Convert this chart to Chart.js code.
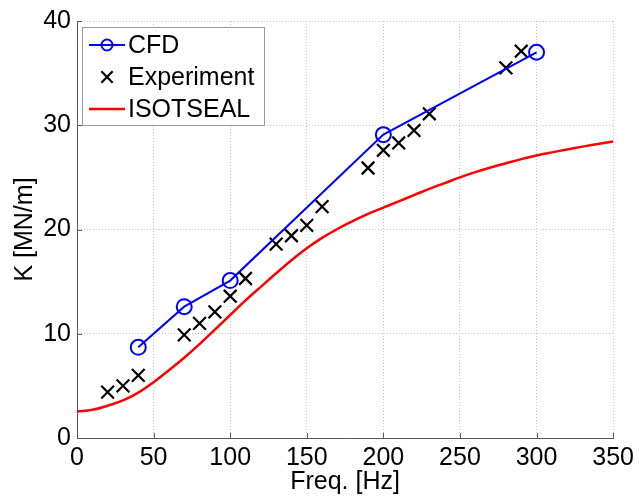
<!DOCTYPE html>
<html>
<head>
<meta charset="utf-8">
<script src="https://cdn.jsdelivr.net/npm/chart.js@4.4.1/dist/chart.umd.min.js"></script>
<style>
  html, body { margin: 0; padding: 0; background: #fff; }
  #wrap { width: 639px; height: 500px; }
</style>
</head>
<body>
<div id="wrap"><canvas id="chart" width="639" height="500"></canvas></div>
<script>
// CFD results
const cfdFreq = [40, 70, 100, 200, 300];
const cfdK = [8.7, 12.6, 15.1, 29.1, 37.0];

// measured values
const expFreq = [20, 30, 40, 70, 80, 90, 100, 110, 130, 140, 150, 160, 190, 200, 210, 220, 230, 280, 290];
const expK = [4.4, 5.0, 6.0, 9.9, 11.0, 12.1, 13.6, 15.3, 18.6, 19.4, 20.4, 22.2, 25.9, 27.6, 28.3, 29.5, 31.1, 35.5, 37.1];

// ISOTSEAL prediction
const isoFreq = [0, 10, 20, 30, 40, 50, 60, 70, 80, 90, 100, 110, 120, 130, 140, 150, 160, 170, 180,
                 190, 200, 210, 220, 230, 240, 250, 260, 270, 280, 290, 300, 310, 320, 330, 340, 350];
const isoK = [2.55, 2.7, 3.1, 3.6, 4.35, 5.35, 6.5, 7.7, 9.0, 10.4, 11.8, 13.2, 14.5, 15.8, 17.05, 18.2, 19.2, 20.05, 20.8,
              21.5, 22.1, 22.7, 23.3, 23.9, 24.45, 25.0, 25.5, 25.95, 26.35, 26.75, 27.1, 27.4, 27.68, 27.95, 28.2, 28.45];

const FONT = 'Liberation Sans, Arial, Helvetica, sans-serif';
const axisColor = '#5a5a5a';

function toPoints(xs, ys) {
    return xs.map((x, i) => ({ x: x, y: ys[i] }));
}

// MATLAB style ticks pointing into the plot
const innerTicks = {
    id: 'innerTicks',
    afterDatasetsDraw(chart) {
        const { ctx, chartArea: a, scales: { x, y } } = chart;
        ctx.save();
        ctx.strokeStyle = axisColor;
        ctx.lineWidth = 1;
        ctx.beginPath();
        x.ticks.forEach(t => {
            const px = Math.round(x.getPixelForValue(t.value)) + 0.5;
            ctx.moveTo(px, a.bottom);
            ctx.lineTo(px, a.bottom - 5);
        });
        y.ticks.forEach(t => {
            const py = Math.round(y.getPixelForValue(t.value)) + 0.5;
            ctx.moveTo(a.left, py);
            ctx.lineTo(a.left + 5, py);
        });
        ctx.stroke();
        ctx.restore();
    }
};

// boxed legend in the upper left corner
const boxLegend = {
    id: 'boxLegend',
    afterDraw(chart) {
        const ctx = chart.ctx;
        const a = chart.chartArea;
        const bx = a.left + 5, by = a.top + 6, bw = 182, bh = 98;
        ctx.save();
        ctx.fillStyle = '#fff';
        ctx.fillRect(bx, by, bw, bh);
        ctx.strokeStyle = '#9a9a9a';
        ctx.lineWidth = 1;
        ctx.strokeRect(bx + 0.5, by + 0.5, bw, bh);

        ctx.font = '25px ' + FONT;
        ctx.textBaseline = 'middle';
        chart.data.datasets.forEach((ds, i) => {
            const cy = by + 18 + i * 32;
            const x0 = bx + 7, x1 = bx + 43, xm = (x0 + x1) / 2;
            if (ds.showLine !== false) {
                ctx.strokeStyle = ds.borderColor;
                ctx.lineWidth = ds.borderWidth;
                ctx.beginPath();
                ctx.moveTo(x0, cy);
                ctx.lineTo(x1, cy);
                ctx.stroke();
            }
            if (ds.pointRadius > 0) {
                ctx.strokeStyle = ds.pointBorderColor || ds.borderColor;
                ctx.fillStyle = 'rgba(0,0,0,0)';
                ctx.lineWidth = ds.pointBorderWidth || ds.borderWidth;
                Chart.helpers.drawPoint(ctx, {
                    pointStyle: ds.pointStyle,
                    radius: ds.pointStyle === 'circle' ? 5.5 : 8,
                    rotation: 0,
                    borderWidth: ctx.lineWidth
                }, xm, cy);
            }
            ctx.fillStyle = '#000';
            ctx.fillText(ds.label, bx + 46, cy + 1);
        });
        ctx.restore();
    }
};

const ctx = document.getElementById('chart').getContext('2d');
new Chart(ctx, {
    type: 'scatter',
    data: {
        datasets: [
            {
                label: 'CFD',
                data: toPoints(cfdFreq, cfdK),
                showLine: true,
                borderColor: '#0000ff',
                borderWidth: 2,
                pointStyle: 'circle',
                pointRadius: 7.5,
                pointBorderWidth: 2,
                pointBorderColor: '#0000ff',
                pointBackgroundColor: 'rgba(0,0,0,0)',
                backgroundColor: 'rgba(0,0,0,0)'
            },
            {
                label: 'Experiment',
                data: toPoints(expFreq, expK),
                showLine: false,
                borderColor: '#000',
                borderWidth: 2.2,
                pointStyle: 'crossRot',
                pointRadius: 9,
                pointBorderWidth: 2.2,
                pointBorderColor: '#000'
            },
            {
                label: 'ISOTSEAL',
                data: toPoints(isoFreq, isoK),
                showLine: true,
                borderColor: '#ff0000',
                borderWidth: 2.5,
                pointRadius: 0,
                tension: 0.4
            }
        ]
    },
    options: {
        responsive: false,
        animation: false,
        layout: { padding: { top: 18, right: 25, left: 0, bottom: 0 } },
        plugins: {
            legend: { display: false },
            tooltip: { enabled: false }
        },
        scales: {
            x: {
                type: 'linear',
                min: 0,
                max: 350,
                afterFit(scale) { scale.height = 62; },
                ticks: {
                    stepSize: 50,
                    padding: 5,
                    color: '#000',
                    font: { family: FONT, size: 25 }
                },
                grid: { color: '#c4c4c4', lineWidth: 1, drawTicks: false },
                border: { color: axisColor, width: 1, dash: [1, 2] },
                title: {
                    display: true,
                    text: 'Freq. [Hz]',
                    color: '#000',
                    font: { family: FONT, size: 25, lineHeight: 1.2 },
                    padding: { top: 0, bottom: 3 }
                }
            },
            y: {
                type: 'linear',
                min: 0,
                max: 40,
                afterFit(scale) { scale.width = 77; },
                ticks: {
                    stepSize: 10,
                    padding: 6,
                    color: '#000',
                    font: { family: FONT, size: 25 }
                },
                grid: { color: '#c4c4c4', lineWidth: 1, drawTicks: false },
                border: { color: axisColor, width: 1, dash: [1, 2] },
                title: {
                    display: true,
                    text: 'K [MN/m]',
                    color: '#000',
                    font: { family: FONT, size: 25, lineHeight: 1.2 },
                    padding: { top: 10, bottom: 0 }
                }
            }
        }
    },
    plugins: [innerTicks, boxLegend]
});
</script>
</body>
</html>
